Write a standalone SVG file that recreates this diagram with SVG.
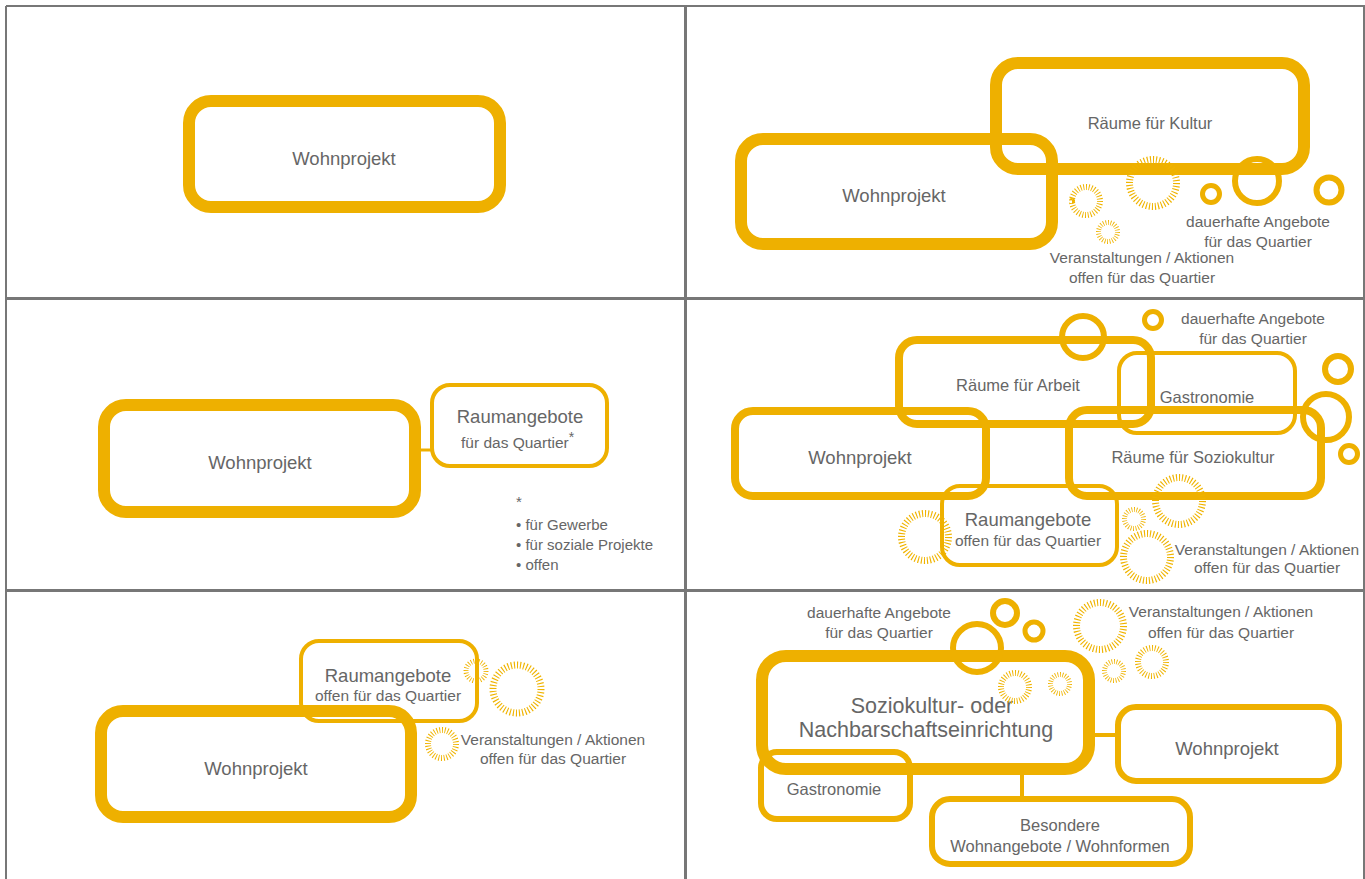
<svg xmlns="http://www.w3.org/2000/svg" width="1365" height="879" viewBox="0 0 1365 879">
<style>
.bg{fill:#ffffff}
.grid{stroke:#777777;fill:none}
.box{fill:none;stroke:#EEB000}
.b12{stroke-width:12}
.b8{stroke-width:8}
.b6{stroke-width:6}
.b4{stroke-width:4}
.ring{fill:none;stroke:#EEB000}
.sun{fill:none;stroke:#F0B400}
.sL{stroke-width:7;stroke-dasharray:0.75 1.333}
.sM{stroke-width:6;stroke-dasharray:1.1 2.025}
.sS{stroke-width:5;stroke-dasharray:1.4 2.767}
.con{stroke:#EEB000;fill:none}
text{font-family:"Liberation Sans",Arial,Helvetica,sans-serif;fill:#666666}
.t185{font-size:18.5px}
.t165{font-size:16.5px}
.t155{font-size:15.5px}
.t15{font-size:15px}
.t22{font-size:21.5px}
.m{text-anchor:middle}
</style>
<rect class="bg" x="0" y="0" width="1365" height="879"/>
<g id="grid">
<line class="grid" x1="6" y1="6" x2="6" y2="879" stroke-width="2"/>
<line class="grid" x1="6" y1="6" x2="1365" y2="6" stroke-width="2"/>
<line class="grid" x1="1364" y1="6" x2="1364" y2="879" stroke-width="2"/>
<line class="grid" x1="685.5" y1="6" x2="685.5" y2="879" stroke-width="3"/>
<line class="grid" x1="6" y1="298.5" x2="1365" y2="298.5" stroke-width="3"/>
<line class="grid" x1="6" y1="590.5" x2="1365" y2="590.5" stroke-width="3"/>
</g>
<g id="connectors">
<line class="con" x1="419" y1="450" x2="432" y2="450" stroke-width="3"/>
<line class="con" x1="1093" y1="735" x2="1118" y2="735" stroke-width="4"/>
<line class="con" x1="1022" y1="773" x2="1022" y2="799" stroke-width="4"/>
</g>
<!-- Panel 1 -->
<g id="p1-wohnprojekt">
<rect class="box b12" x="189" y="101" width="311" height="106" rx="22"/>
<text class="t185 m" x="344" y="164.5">Wohnprojekt</text>
</g>
<!-- Panel 2 -->
<g id="p2-kultur">
<rect class="box b12" x="996" y="63" width="308" height="106" rx="22"/>
<text class="t165 m" x="1150" y="129">Räume für Kultur</text>
</g>
<g id="p2-wohnprojekt">
<rect class="box b12" x="741" y="139" width="311" height="105" rx="22"/>
<text class="t185 m" x="894" y="201.5">Wohnprojekt</text>
</g>
<g id="p2-angebote">
<circle class="ring" cx="1257" cy="181" r="22" stroke-width="6"/>
<circle class="ring" cx="1211" cy="194" r="8.5" stroke-width="5"/>
<circle class="ring" cx="1329" cy="190" r="12.5" stroke-width="6"/>
<text class="t155 m" x="1258" y="226.5">dauerhafte Angebote</text>
<text class="t155 m" x="1258" y="246.5">für das Quartier</text>
</g>
<g id="p2-veranstaltungen">
<circle class="sun sM" cx="1086" cy="201" r="14" pathLength="100"/>
<circle class="sun sL" cx="1153" cy="183" r="23.5" pathLength="100"/>
<circle class="sun sS" cx="1108" cy="232" r="9.5" pathLength="100"/>
<text class="t155 m" x="1142" y="262.5">Veranstaltungen / Aktionen</text>
<text class="t155 m" x="1142" y="282.5">offen für das Quartier</text>
</g>
<!-- Panel 3 -->
<g id="p3-wohnprojekt">
<rect class="box b12" x="104" y="405" width="311" height="107" rx="22"/>
<text class="t185 m" x="260" y="468.5">Wohnprojekt</text>
</g>
<g id="p3-raumangebote">
<rect class="box b4" x="432" y="385" width="175" height="81" rx="18"/>
<text class="t185 m" x="520" y="422.5">Raumangebote</text>
<text class="t155" x="461" y="447.5">für das Quartier<tspan font-size="14" dy="-6">*</tspan></text>
</g>
<g id="p3-footnote">
<text class="t15" x="516" y="507">*</text>
<text class="t15" x="516" y="529.5">• für Gewerbe</text>
<text class="t15" x="516" y="549.5">• für soziale Projekte</text>
<text class="t15" x="516" y="569.5">• offen</text>
</g>
<!-- Panel 4 -->
<g id="p4-wohnprojekt">
<rect class="box b8" x="735" y="411" width="251" height="85" rx="18"/>
<text class="t185 m" x="860" y="463.5">Wohnprojekt</text>
</g>
<g id="p4-arbeit">
<rect class="box b8" x="899" y="340" width="252" height="84" rx="18"/>
<text class="t165 m" x="1018" y="390.5">Räume für Arbeit</text>
</g>
<g id="p4-gastronomie">
<rect class="box b4" x="1119" y="353" width="176" height="80" rx="18"/>
<text class="t165 m" x="1207" y="403">Gastronomie</text>
</g>
<g id="p4-soziokultur">
<rect class="box b8" x="1069" y="410" width="252" height="86" rx="18"/>
<text class="t165 m" x="1193" y="463">Räume für Soziokultur</text>
</g>
<g id="p4-raumangebote">
<rect class="box b4" x="942" y="486" width="175" height="79" rx="18"/>
<text class="t185 m" x="1028" y="525.5">Raumangebote</text>
<text class="t155 m" x="1028" y="545.5">offen für das Quartier</text>
</g>
<g id="p4-angebote">
<circle class="ring" cx="1083" cy="337" r="21" stroke-width="6"/>
<circle class="ring" cx="1153" cy="320" r="8.5" stroke-width="5"/>
<circle class="ring" cx="1338" cy="369" r="13" stroke-width="6"/>
<circle class="ring" cx="1326" cy="417" r="23" stroke-width="6"/>
<circle class="ring" cx="1349" cy="454" r="8.5" stroke-width="5"/>
<text class="t155 m" x="1253" y="323.5">dauerhafte Angebote</text>
<text class="t155 m" x="1253" y="343.5">für das Quartier</text>
</g>
<g id="p4-veranstaltungen">
<circle class="sun sL" cx="925" cy="537" r="23.5" pathLength="100"/>
<circle class="sun sL" cx="1179" cy="501" r="23.5" pathLength="100"/>
<circle class="sun sS" cx="1134" cy="519" r="9.5" pathLength="100"/>
<circle class="sun sL" cx="1147" cy="557" r="23.5" pathLength="100"/>
<text class="t155 m" x="1267" y="554.5">Veranstaltungen / Aktionen</text>
<text class="t155 m" x="1267" y="572.5">offen für das Quartier</text>
</g>
<!-- Panel 5 -->
<g id="p5-wohnprojekt">
<rect class="box b12" x="101" y="711" width="310" height="106" rx="22"/>
<text class="t185 m" x="256" y="774.5">Wohnprojekt</text>
</g>
<g id="p5-raumangebote">
<rect class="box b4" x="301" y="641" width="176" height="80" rx="18"/>
<text class="t185 m" x="388" y="681.5">Raumangebote</text>
<text class="t155 m" x="388" y="700.5">offen für das Quartier</text>
</g>
<g id="p5-veranstaltungen">
<circle class="sun sS" cx="476" cy="671" r="10" pathLength="100"/>
<circle class="sun sL" cx="517" cy="689" r="24" pathLength="100"/>
<circle class="sun sM" cx="442" cy="744" r="14" pathLength="100"/>
<text class="t155 m" x="553" y="744.5">Veranstaltungen / Aktionen</text>
<text class="t155 m" x="553" y="763.5">offen für das Quartier</text>
</g>
<!-- Panel 6 -->
<g id="p6-soziokultur">
<rect class="box b12" x="762" y="656" width="327" height="113" rx="24"/>
<text class="t22 m" x="932" y="713">Soziokultur- oder</text>
<text class="t22 m" x="926" y="737">Nachbarschaftseinrichtung</text>
</g>
<g id="p6-wohnprojekt">
<rect class="box b6" x="1118" y="707" width="221" height="74" rx="18"/>
<text class="t185 m" x="1227" y="754.5">Wohnprojekt</text>
</g>
<g id="p6-gastronomie">
<rect class="box b6" x="761" y="752" width="149" height="67" rx="16"/>
<text class="t165 m" x="834" y="795">Gastronomie</text>
</g>
<g id="p6-besondere">
<rect class="box b6" x="932" y="799" width="258" height="65" rx="18"/>
<text class="t165 m" x="1060" y="831">Besondere</text>
<text class="t165 m" x="1060" y="852">Wohnangebote / Wohnformen</text>
</g>
<g id="p6-angebote">
<circle class="ring" cx="977" cy="648" r="24" stroke-width="6"/>
<circle class="ring" cx="1005" cy="613" r="12" stroke-width="6"/>
<circle class="ring" cx="1034" cy="631" r="9" stroke-width="5"/>
<text class="t155 m" x="879" y="617.5">dauerhafte Angebote</text>
<text class="t155 m" x="879" y="637.5">für das Quartier</text>
</g>
<g id="p6-veranstaltungen">
<circle class="sun sL" cx="1100" cy="626" r="23.5" pathLength="100"/>
<circle class="sun sS" cx="1114" cy="671" r="9.5" pathLength="100"/>
<circle class="sun sM" cx="1152" cy="662" r="14" pathLength="100"/>
<circle class="sun sM" cx="1015" cy="687" r="14" pathLength="100"/>
<circle class="sun sS" cx="1060" cy="684" r="9.5" pathLength="100"/>
<text class="t155 m" x="1221" y="616.5">Veranstaltungen / Aktionen</text>
<text class="t155 m" x="1221" y="637.5">offen für das Quartier</text>
</g>
</svg>
